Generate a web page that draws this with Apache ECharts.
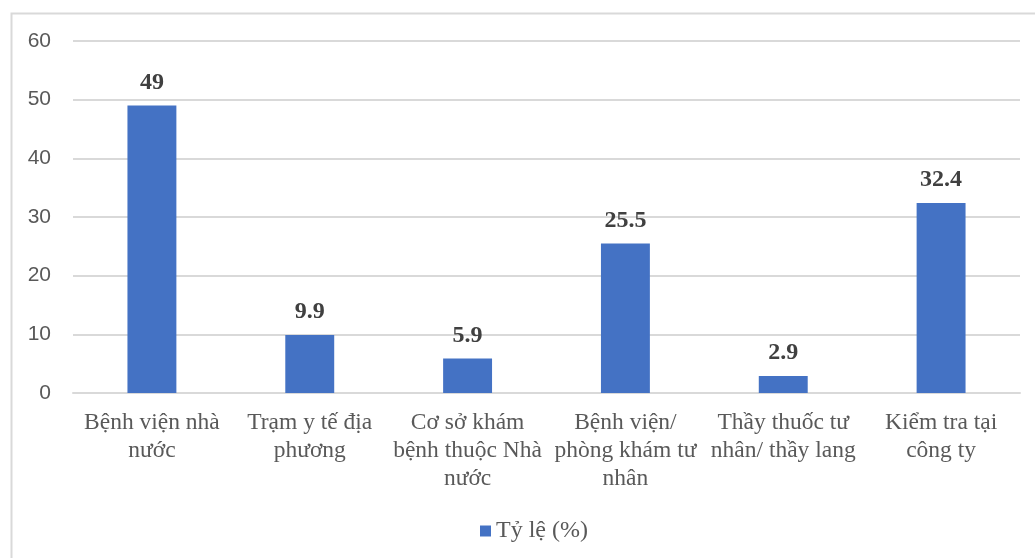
<!DOCTYPE html>
<html>
<head>
<meta charset="utf-8">
<script src="https://cdn.jsdelivr.net/npm/echarts@6/dist/echarts.min.js"></script>
<style>
  html, body { margin: 0; padding: 0; background: #fff; }
  #chart { width: 1035px; height: 558px; }
</style>
</head>
<body>
<div id="chart"></div>
<script>
// categories and values
var categories = [
	"Bệnh viện nhà\nnước",
	"Trạm y tế địa\nphương",
	"Cơ sở khám\nbệnh thuộc Nhà\nnước",
	"Bệnh viện/\nphòng khám tư\nnhân",
	"Thầy thuốc tư\nnhân/ thầy lang",
	"Kiểm tra tại\ncông ty"
];
var tyLe = [49, 9.9, 5.9, 25.5, 2.9, 32.4];
var seriesName = "Tỷ lệ (%)";

var voChart = echarts.init(document.getElementById("chart"));

var options = {
	animation: false,
	graphic: [{
		type: "rect",
		left: 9,
		top: 11,
		shape: { width: 1040, height: 560 },
		style: { fill: "none", stroke: "#d9d9d9", lineWidth: 2 },
		silent: true,
		z: -1
	}],
	grid: {
		top: 41,
		left: 73,
		right: 15,
		bottom: 165
	},
	legend: {
		data: [seriesName],
		bottom: 10,
		left: 475,
		itemWidth: 11,
		itemHeight: 11,
		itemGap: 6,
		icon: "rect",
		textStyle: {
			fontFamily: "Liberation Serif",
			fontSize: 24,
			color: "#595959"
		}
	},
	xAxis: {
		type: "category",
		data: categories,
		axisLine: { lineStyle: { color: "#d9d9d9", width: 2 } },
		axisTick: { show: false },
		axisLabel: {
			margin: 16,
			fontFamily: "Liberation Serif",
			fontSize: 23.5,
			lineHeight: 28,
			color: "#595959",
			interval: 0
		}
	},
	yAxis: {
		type: "value",
		min: 0,
		max: 60,
		interval: 10,
		axisLine: { show: false },
		axisTick: { show: false },
		axisLabel: {
			margin: 22,
			fontFamily: "Liberation Sans",
			fontSize: 21,
			color: "#595959"
		},
		splitLine: { lineStyle: { color: "#d9d9d9", width: 2 } }
	},
	series: [{
		name: seriesName,
		type: "bar",
		data: tyLe,
		barWidth: "31%",
		itemStyle: { color: "#4472c4" },
		label: {
			show: true,
			position: "top",
			distance: 11,
			fontFamily: "Liberation Serif",
			fontWeight: "bold",
			fontSize: 24,
			color: "#404040"
		}
	}]
};
voChart.setOption(options);
</script>
</body>
</html>
